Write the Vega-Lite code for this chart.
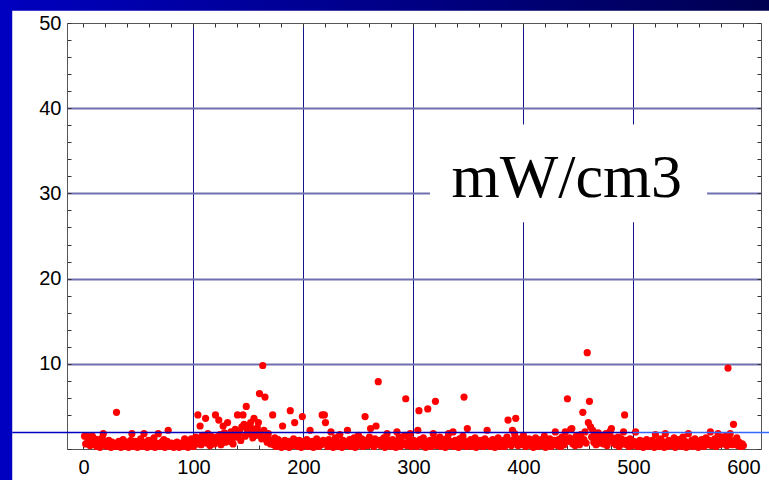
{
  "$schema": "https://vega.github.io/schema/vega-lite/v6.json",
  "width": 694,
  "height": 426,
  "autosize": {"type": "none"},
  "padding": {"left": 67, "top": 23, "right": 8, "bottom": 31},
  "background": "white",
  "config": {"view": {"stroke": null}, "font": "Liberation Sans"},
  "datasets": {
    "pts": [
{"x":1,"y":1.5},{"x":2,"y":0.6},{"x":3,"y":1.5},{"x":4,"y":0.9},{"x":5,"y":1.4},{"x":6,"y":0.4},{"x":7,"y":1.0},{"x":8,"y":1.5},{"x":9,"y":0.7},{"x":10,"y":1.2},
{"x":11,"y":0.5},{"x":12,"y":0.3},{"x":13,"y":1.1},{"x":14,"y":0.8},{"x":15,"y":0.2},{"x":16,"y":0.6},{"x":17,"y":1.3},{"x":18,"y":1.8},{"x":19,"y":0.9},{"x":20,"y":0.4},
{"x":21,"y":0.7},{"x":22,"y":0.3},{"x":23,"y":1.0},{"x":24,"y":0.5},{"x":25,"y":0.2},{"x":26,"y":0.8},{"x":27,"y":0.4},{"x":28,"y":0.6},{"x":29,"y":0.3},{"x":30,"y":4.3},
{"x":31,"y":0.5},{"x":32,"y":0.9},{"x":33,"y":0.3},{"x":34,"y":0.2},{"x":35,"y":0.7},{"x":36,"y":1.1},{"x":37,"y":0.4},{"x":38,"y":0.6},{"x":39,"y":0.3},{"x":40,"y":0.8},
{"x":41,"y":0.2},{"x":42,"y":0.5},{"x":43,"y":1.0},{"x":44,"y":1.8},{"x":45,"y":0.6},{"x":46,"y":0.3},{"x":47,"y":0.9},{"x":48,"y":0.4},{"x":49,"y":0.2},{"x":50,"y":0.7},
{"x":51,"y":0.5},{"x":52,"y":1.2},{"x":53,"y":0.3},{"x":54,"y":0.8},{"x":55,"y":1.8},{"x":56,"y":0.4},{"x":57,"y":0.6},{"x":58,"y":0.2},{"x":59,"y":1.0},{"x":60,"y":0.5},
{"x":61,"y":0.3},{"x":62,"y":0.9},{"x":63,"y":0.6},{"x":64,"y":1.3},{"x":65,"y":0.2},{"x":66,"y":0.7},{"x":67,"y":0.4},{"x":68,"y":1.8},{"x":69,"y":0.5},{"x":70,"y":0.3},
{"x":71,"y":0.8},{"x":72,"y":0.4},{"x":73,"y":1.1},{"x":74,"y":0.2},{"x":75,"y":0.6},{"x":76,"y":0.9},{"x":77,"y":2.2},{"x":78,"y":0.5},{"x":79,"y":0.3},{"x":80,"y":0.7},
{"x":81,"y":0.4},{"x":82,"y":0.2},{"x":83,"y":0.6},{"x":84,"y":0.3},{"x":85,"y":0.8},{"x":86,"y":0.5},{"x":87,"y":0.2},{"x":88,"y":0.4},{"x":89,"y":0.7},{"x":90,"y":0.3},
{"x":91,"y":0.5},{"x":92,"y":1.2},{"x":93,"y":0.3},{"x":94,"y":0.6},{"x":95,"y":0.2},{"x":96,"y":0.4},{"x":97,"y":0.9},{"x":98,"y":1.2},{"x":99,"y":0.5},{"x":100,"y":0.3},
{"x":101,"y":0.8},{"x":102,"y":1.4},{"x":103,"y":0.6},{"x":104,"y":4.0},{"x":105,"y":1.0},{"x":106,"y":2.7},{"x":107,"y":0.5},{"x":108,"y":1.6},{"x":109,"y":0.9},{"x":110,"y":1.3},
{"x":111,"y":3.6},{"x":112,"y":0.7},{"x":113,"y":1.8},{"x":114,"y":1.1},{"x":115,"y":0.4},{"x":116,"y":1.5},{"x":117,"y":0.8},{"x":118,"y":1.2},{"x":119,"y":0.6},{"x":120,"y":4.0},
{"x":121,"y":1.4},{"x":122,"y":0.9},{"x":123,"y":3.4},{"x":124,"y":1.7},{"x":125,"y":0.5},{"x":126,"y":1.1},{"x":127,"y":2.7},{"x":128,"y":1.9},{"x":129,"y":0.8},{"x":130,"y":1.3},
{"x":131,"y":3.1},{"x":132,"y":1.6},{"x":133,"y":0.9},{"x":134,"y":2.0},{"x":135,"y":1.2},{"x":136,"y":0.6},{"x":137,"y":1.8},{"x":138,"y":2.3},{"x":139,"y":1.4},{"x":140,"y":4.0},
{"x":141,"y":1.7},{"x":142,"y":2.1},{"x":143,"y":1.0},{"x":144,"y":2.6},{"x":145,"y":4.0},{"x":146,"y":2.9},{"x":147,"y":1.5},{"x":148,"y":5.0},{"x":149,"y":2.2},{"x":150,"y":2.7},
{"x":151,"y":1.8},{"x":152,"y":3.1},{"x":153,"y":2.4},{"x":154,"y":1.3},{"x":155,"y":3.6},{"x":156,"y":2.0},{"x":157,"y":1.6},{"x":158,"y":2.5},{"x":159,"y":3.1},{"x":160,"y":6.5},
{"x":161,"y":1.9},{"x":162,"y":1.2},{"x":163,"y":9.8},{"x":164,"y":2.2},{"x":165,"y":6.1},{"x":166,"y":1.4},{"x":167,"y":0.8},{"x":168,"y":1.8},{"x":169,"y":1.1},{"x":170,"y":0.6},
{"x":171,"y":0.9},{"x":172,"y":4.0},{"x":173,"y":0.5},{"x":174,"y":1.3},{"x":175,"y":0.3},{"x":176,"y":0.7},{"x":177,"y":1.1},{"x":178,"y":0.4},{"x":179,"y":0.8},{"x":180,"y":0.2},
{"x":181,"y":2.7},{"x":182,"y":0.6},{"x":183,"y":1.0},{"x":184,"y":0.3},{"x":185,"y":0.5},{"x":186,"y":0.9},{"x":187,"y":0.2},{"x":188,"y":4.5},{"x":189,"y":0.7},{"x":190,"y":0.4},
{"x":191,"y":1.2},{"x":192,"y":3.1},{"x":193,"y":0.5},{"x":194,"y":0.8},{"x":195,"y":0.3},{"x":196,"y":1.0},{"x":197,"y":0.6},{"x":198,"y":0.2},{"x":199,"y":3.8},{"x":200,"y":0.9},
{"x":201,"y":0.4},{"x":202,"y":0.7},{"x":203,"y":1.1},{"x":204,"y":0.3},{"x":205,"y":0.6},{"x":206,"y":2.2},{"x":207,"y":0.5},{"x":208,"y":0.9},{"x":209,"y":0.2},{"x":210,"y":0.8},
{"x":211,"y":0.4},{"x":212,"y":1.2},{"x":213,"y":0.6},{"x":214,"y":0.3},{"x":215,"y":0.9},{"x":216,"y":0.5},{"x":217,"y":4.0},{"x":218,"y":1.0},{"x":219,"y":4.0},{"x":220,"y":3.1},
{"x":221,"y":0.7},{"x":222,"y":0.3},{"x":223,"y":1.1},{"x":224,"y":0.5},{"x":225,"y":2.0},{"x":226,"y":0.8},{"x":227,"y":0.2},{"x":228,"y":0.6},{"x":229,"y":1.3},{"x":230,"y":0.4},
{"x":231,"y":0.9},{"x":232,"y":0.3},{"x":233,"y":1.7},{"x":234,"y":0.6},{"x":235,"y":0.2},{"x":236,"y":1.0},{"x":237,"y":0.5},{"x":238,"y":0.8},{"x":239,"y":0.4},{"x":240,"y":2.2},
{"x":241,"y":0.6},{"x":242,"y":1.1},{"x":243,"y":0.3},{"x":244,"y":0.7},{"x":245,"y":0.5},{"x":246,"y":1.3},{"x":247,"y":0.2},{"x":248,"y":0.9},{"x":249,"y":0.4},{"x":250,"y":1.6},
{"x":251,"y":0.5},{"x":252,"y":0.8},{"x":253,"y":1.2},{"x":254,"y":0.3},{"x":255,"y":0.6},{"x":256,"y":3.8},{"x":257,"y":1.0},{"x":258,"y":0.4},{"x":259,"y":0.7},{"x":260,"y":1.4},
{"x":261,"y":2.4},{"x":262,"y":0.5},{"x":263,"y":0.9},{"x":264,"y":0.3},{"x":265,"y":1.2},{"x":266,"y":2.7},{"x":267,"y":0.6},{"x":268,"y":7.9},{"x":269,"y":1.0},{"x":270,"y":0.4},
{"x":271,"y":0.8},{"x":272,"y":0.5},{"x":273,"y":1.3},{"x":274,"y":0.2},{"x":275,"y":0.7},{"x":276,"y":1.8},{"x":277,"y":0.4},{"x":278,"y":1.0},{"x":279,"y":0.6},{"x":280,"y":0.3},
{"x":281,"y":1.1},{"x":282,"y":0.5},{"x":283,"y":0.8},{"x":284,"y":0.2},{"x":285,"y":2.0},{"x":286,"y":0.6},{"x":287,"y":1.4},{"x":288,"y":0.3},{"x":289,"y":0.9},{"x":290,"y":0.5},
{"x":291,"y":0.7},{"x":292,"y":1.6},{"x":293,"y":5.9},{"x":294,"y":0.4},{"x":295,"y":0.8},{"x":296,"y":1.2},{"x":297,"y":1.8},{"x":298,"y":0.3},{"x":299,"y":0.6},{"x":300,"y":1.0},
{"x":301,"y":0.5},{"x":302,"y":0.9},{"x":303,"y":0.3},{"x":304,"y":2.2},{"x":305,"y":4.5},{"x":306,"y":1.1},{"x":307,"y":0.6},{"x":308,"y":0.4},{"x":309,"y":1.3},{"x":310,"y":0.7},
{"x":311,"y":0.2},{"x":312,"y":0.8},{"x":313,"y":4.7},{"x":314,"y":0.5},{"x":315,"y":1.0},{"x":316,"y":0.3},{"x":317,"y":0.7},{"x":318,"y":1.8},{"x":319,"y":1.2},{"x":320,"y":5.6},
{"x":321,"y":0.4},{"x":322,"y":0.9},{"x":323,"y":0.6},{"x":324,"y":1.4},{"x":325,"y":0.3},{"x":326,"y":0.8},{"x":327,"y":0.5},{"x":328,"y":1.1},{"x":329,"y":0.2},{"x":330,"y":0.7},
{"x":331,"y":1.3},{"x":332,"y":1.8},{"x":333,"y":0.4},{"x":334,"y":0.9},{"x":335,"y":0.6},{"x":336,"y":2.0},{"x":337,"y":0.3},{"x":338,"y":1.0},{"x":339,"y":0.5},{"x":340,"y":0.8},
{"x":341,"y":0.2},{"x":342,"y":1.2},{"x":343,"y":0.6},{"x":344,"y":0.4},{"x":345,"y":1.5},{"x":346,"y":6.1},{"x":347,"y":0.9},{"x":348,"y":0.3},{"x":349,"y":2.4},{"x":350,"y":0.7},
{"x":351,"y":0.5},{"x":352,"y":1.1},{"x":353,"y":0.3},{"x":354,"y":0.8},{"x":355,"y":0.6},{"x":356,"y":1.3},{"x":357,"y":0.2},{"x":358,"y":0.9},{"x":359,"y":0.4},{"x":360,"y":0.7},
{"x":361,"y":1.0},{"x":362,"y":0.5},{"x":363,"y":0.3},{"x":364,"y":0.8},{"x":365,"y":1.2},{"x":366,"y":0.4},{"x":367,"y":2.2},{"x":368,"y":0.6},{"x":369,"y":0.9},{"x":370,"y":0.3},
{"x":371,"y":0.7},{"x":372,"y":1.1},{"x":373,"y":0.5},{"x":374,"y":0.2},{"x":375,"y":0.8},{"x":376,"y":0.4},{"x":377,"y":1.3},{"x":378,"y":0.6},{"x":379,"y":0.3},{"x":380,"y":0.9},
{"x":381,"y":0.5},{"x":382,"y":1.0},{"x":383,"y":0.3},{"x":384,"y":0.7},{"x":385,"y":1.4},{"x":386,"y":3.4},{"x":387,"y":0.6},{"x":388,"y":0.9},{"x":389,"y":0.4},{"x":390,"y":2.2},
{"x":391,"y":1.1},{"x":392,"y":1.8},{"x":393,"y":3.6},{"x":394,"y":0.7},{"x":395,"y":0.4},{"x":396,"y":1.2},{"x":397,"y":0.5},{"x":398,"y":0.8},{"x":399,"y":1.0},{"x":400,"y":1.6},
{"x":401,"y":0.6},{"x":402,"y":0.3},{"x":403,"y":0.9},{"x":404,"y":0.5},{"x":405,"y":1.2},{"x":406,"y":0.7},{"x":407,"y":0.4},{"x":408,"y":1.0},{"x":409,"y":0.2},{"x":410,"y":0.8},
{"x":411,"y":1.3},{"x":412,"y":0.5},{"x":413,"y":0.3},{"x":414,"y":0.9},{"x":415,"y":0.6},{"x":416,"y":1.1},{"x":417,"y":0.4},{"x":418,"y":0.7},{"x":419,"y":1.5},{"x":420,"y":0.2},
{"x":421,"y":0.6},{"x":422,"y":0.9},{"x":423,"y":0.4},{"x":424,"y":1.2},{"x":425,"y":0.3},{"x":426,"y":0.8},{"x":427,"y":0.5},{"x":428,"y":1.0},{"x":429,"y":2.0},{"x":430,"y":0.7},
{"x":431,"y":0.4},{"x":432,"y":1.1},{"x":433,"y":0.6},{"x":434,"y":0.3},{"x":435,"y":1.4},{"x":436,"y":0.8},{"x":437,"y":0.5},{"x":438,"y":2.0},{"x":439,"y":1.2},{"x":440,"y":5.9},
{"x":441,"y":0.9},{"x":442,"y":1.3},{"x":443,"y":2.3},{"x":444,"y":2.4},{"x":445,"y":0.6},{"x":446,"y":1.0},{"x":447,"y":0.4},{"x":448,"y":1.5},{"x":449,"y":0.8},{"x":450,"y":1.2},
{"x":451,"y":0.5},{"x":452,"y":1.7},{"x":453,"y":0.9},{"x":454,"y":4.3},{"x":455,"y":1.1},{"x":456,"y":2.0},{"x":457,"y":0.7},{"x":458,"y":11.3},{"x":459,"y":3.1},{"x":460,"y":5.6},
{"x":461,"y":2.6},{"x":462,"y":1.4},{"x":463,"y":2.2},{"x":464,"y":0.8},{"x":465,"y":1.6},{"x":466,"y":0.5},{"x":467,"y":1.1},{"x":468,"y":1.9},{"x":469,"y":0.7},{"x":470,"y":1.3},
{"x":471,"y":0.9},{"x":472,"y":1.5},{"x":473,"y":0.6},{"x":474,"y":1.2},{"x":475,"y":1.8},{"x":476,"y":0.4},{"x":477,"y":1.0},{"x":478,"y":1.6},{"x":479,"y":2.1},{"x":480,"y":2.4},
{"x":481,"y":1.3},{"x":482,"y":0.7},{"x":483,"y":1.1},{"x":484,"y":0.5},{"x":485,"y":0.9},{"x":486,"y":1.4},{"x":487,"y":0.3},{"x":488,"y":0.8},{"x":489,"y":1.2},{"x":490,"y":0.6},
{"x":491,"y":2.0},{"x":492,"y":4.0},{"x":493,"y":1.0},{"x":494,"y":0.5},{"x":495,"y":0.8},{"x":496,"y":0.3},{"x":497,"y":1.2},{"x":498,"y":0.6},{"x":499,"y":0.4},{"x":500,"y":0.9},
{"x":501,"y":0.5},{"x":502,"y":2.0},{"x":503,"y":0.8},{"x":504,"y":0.3},{"x":505,"y":0.6},{"x":506,"y":1.0},{"x":507,"y":0.4},{"x":508,"y":0.7},{"x":509,"y":0.2},{"x":510,"y":0.9},
{"x":511,"y":0.5},{"x":512,"y":1.1},{"x":513,"y":0.3},{"x":514,"y":0.8},{"x":515,"y":0.6},{"x":516,"y":0.4},{"x":517,"y":1.0},{"x":518,"y":0.7},{"x":519,"y":0.2},{"x":520,"y":1.7},
{"x":521,"y":0.5},{"x":522,"y":0.9},{"x":523,"y":0.3},{"x":524,"y":0.6},{"x":525,"y":1.2},{"x":526,"y":0.4},{"x":527,"y":0.8},{"x":528,"y":0.2},{"x":529,"y":1.8},{"x":530,"y":0.6},
{"x":531,"y":0.3},{"x":532,"y":1.0},{"x":533,"y":0.7},{"x":534,"y":0.4},{"x":535,"y":0.9},{"x":536,"y":0.5},{"x":537,"y":1.3},{"x":538,"y":0.2},{"x":539,"y":0.7},{"x":540,"y":0.5},
{"x":541,"y":1.1},{"x":542,"y":0.4},{"x":543,"y":0.8},{"x":544,"y":0.3},{"x":545,"y":1.4},{"x":546,"y":0.6},{"x":547,"y":0.9},{"x":548,"y":0.2},{"x":549,"y":0.5},{"x":550,"y":1.8},
{"x":551,"y":0.7},{"x":552,"y":0.4},{"x":553,"y":1.0},{"x":554,"y":0.3},{"x":555,"y":0.6},{"x":556,"y":1.2},{"x":557,"y":0.5},{"x":558,"y":0.8},{"x":559,"y":0.2},{"x":560,"y":0.9},
{"x":561,"y":0.4},{"x":562,"y":1.1},{"x":563,"y":0.6},{"x":564,"y":0.3},{"x":565,"y":0.8},{"x":566,"y":1.3},{"x":567,"y":0.5},{"x":568,"y":0.7},{"x":569,"y":1.0},{"x":570,"y":2.0},
{"x":571,"y":0.4},{"x":572,"y":0.9},{"x":573,"y":0.6},{"x":574,"y":1.2},{"x":575,"y":0.3},{"x":576,"y":0.8},{"x":577,"y":1.8},{"x":578,"y":0.5},{"x":579,"y":1.0},{"x":580,"y":0.7},
{"x":581,"y":1.4},{"x":582,"y":0.6},{"x":583,"y":0.9},{"x":584,"y":1.5},{"x":585,"y":0.4},{"x":586,"y":9.5},{"x":587,"y":1.2},{"x":588,"y":1.8},{"x":589,"y":0.7},{"x":590,"y":0.5},
{"x":591,"y":2.9},{"x":592,"y":1.0},{"x":593,"y":0.6},{"x":594,"y":1.3},{"x":595,"y":0.4},{"x":596,"y":0.8},{"x":597,"y":0.5},{"x":598,"y":0.3},{"x":599,"y":0.6},{"x":600,"y":0.4}
    ]
  },
  "layer": [
    {
      "data": {"values": [{}]},
      "mark": {"type": "rect", "color": "#0000c0", "clip": false},
      "encoding": {
        "x": {"datum": -80, "type": "quantitative", "scale": {"domain": [-15, 616], "nice": false, "zero": false}, "axis": null},
        "x2": {"datum": -64.8},
        "y": {"datum": -5, "type": "quantitative", "scale": {"domain": [0, 50], "nice": false, "zero": false}, "axis": null},
        "y2": {"datum": 55}
      }
    },
    {
      "data": {"values": [{}]},
      "mark": {"type": "rect", "clip": false, "color": {"gradient": "linear", "x1": 0, "x2": 1, "y1": 0, "y2": 0, "stops": [{"offset": 0, "color": "#0000c0"}, {"offset": 1, "color": "#000050"}]}},
      "encoding": {
        "x": {"datum": -80, "type": "quantitative", "scale": {"domain": [-15, 616], "nice": false, "zero": false}, "axis": null},
        "x2": {"datum": 630},
        "y": {"datum": 51.45, "type": "quantitative", "scale": {"domain": [0, 50], "nice": false, "zero": false}, "axis": null},
        "y2": {"datum": 56}
      }
    },
    {
      "data": {"name": "pts"},
      "mark": {"type": "circle", "color": "#ff0000", "opacity": 1, "size": 52},
      "encoding": {
        "x": {"field": "x", "type": "quantitative", "scale": {"domain": [-15, 616], "nice": false, "zero": false},
          "axis": {"orient": "bottom", "title": null, "values": [0,20,40,60,80,100,120,140,160,180,200,220,240,260,280,300,320,340,360,380,400,420,440,460,480,500,520,540,560,580,600],
            "labelExpr": "datum.value % 100 === 0 ? datum.label : ''", "labelFontSize": 20, "labelColor": "black", "labelFont": "Liberation Sans", "labelPadding": 12, "labelFlush": false, "labelOverlap": false,
            "tickSize": -4, "tickColor": "#333", "domainColor": "#555", "grid": true, "gridColor": "#14148a", "gridWidth": 1,
            "gridOpacity": {"condition": {"test": "datum.value % 100 === 0 && datum.value > 0 && datum.value < 600", "value": 1}, "value": 0}}},
        "y": {"field": "y", "type": "quantitative", "scale": {"domain": [0, 50], "nice": false, "zero": false},
          "axis": {"orient": "left", "title": null, "values": [0,2,4,6,8,10,12,14,16,18,20,22,24,26,28,30,32,34,36,38,40,42,44,46,48,50],
            "labelExpr": "datum.value % 10 === 0 && datum.value > 0 ? datum.label : ''", "labelFontSize": 20, "labelColor": "black", "labelFont": "Liberation Sans", "labelPadding": 10, "labelFlush": false, "labelOverlap": false,
            "tickSize": -4, "tickColor": "#333", "domainColor": "#555", "grid": true, "gridColor": "#7070b0", "gridWidth": 2,
            "gridOpacity": {"condition": {"test": "datum.value % 10 === 0 && datum.value > 0 && datum.value < 50", "value": 1}, "value": 0}}}
      }
    },
    {
      "data": {"values": [{}]},
      "mark": {"type": "rule", "color": "#0000c0", "strokeWidth": 1.5, "clip": false},
      "encoding": {
        "x": {"datum": -64.8, "type": "quantitative", "scale": {"domain": [-15, 616], "nice": false, "zero": false}, "axis": null},
        "x2": {"datum": 499.7},
        "y": {"datum": 1.95, "type": "quantitative", "scale": {"domain": [0, 50], "nice": false, "zero": false}, "axis": null}
      }
    },
    {
      "data": {"values": [{}]},
      "mark": {"type": "rule", "color": "#3366ff", "strokeWidth": 1.5, "clip": false},
      "encoding": {
        "x": {"datum": 499.7, "type": "quantitative", "scale": {"domain": [-15, 616], "nice": false, "zero": false}, "axis": null},
        "x2": {"datum": 630},
        "y": {"datum": 1.95, "type": "quantitative", "scale": {"domain": [0, 50], "nice": false, "zero": false}, "axis": null}
      }
    },
    {
      "data": {"values": [{}]},
      "mark": {"type": "rect", "color": "white"},
      "encoding": {
        "x": {"datum": 315, "type": "quantitative", "scale": {"domain": [-15, 616], "nice": false, "zero": false},
          "axis": {"orient": "top", "title": null, "values": [0,20,40,60,80,100,120,140,160,180,200,220,240,260,280,300,320,340,360,380,400,420,440,460,480,500,520,540,560,580,600],
            "labels": false, "tickSize": -4, "tickColor": "#333", "domainColor": "#555", "grid": false}},
        "x2": {"datum": 567},
        "y": {"datum": 26.6, "type": "quantitative", "scale": {"domain": [0, 50], "nice": false, "zero": false},
          "axis": {"orient": "right", "title": null, "values": [0,2,4,6,8,10,12,14,16,18,20,22,24,26,28,30,32,34,36,38,40,42,44,46,48,50],
            "labels": false, "tickSize": -4, "tickColor": "#333", "domainColor": "#555", "grid": false}},
        "y2": {"datum": 38.1}
      }
    },
    {
      "data": {"values": [{}]},
      "mark": {"type": "text", "text": "mW/cm3", "font": "Liberation Serif", "fontSize": 62, "color": "black", "align": "center", "baseline": "alphabetic"},
      "encoding": {
        "x": {"datum": 439.4, "type": "quantitative", "scale": {"domain": [-15, 616], "nice": false, "zero": false}, "axis": null},
        "y": {"datum": 29.6, "type": "quantitative", "scale": {"domain": [0, 50], "nice": false, "zero": false}, "axis": null}
      }
    }
  ],
  "resolve": {"axis": {"x": "independent", "y": "independent"}}
}
